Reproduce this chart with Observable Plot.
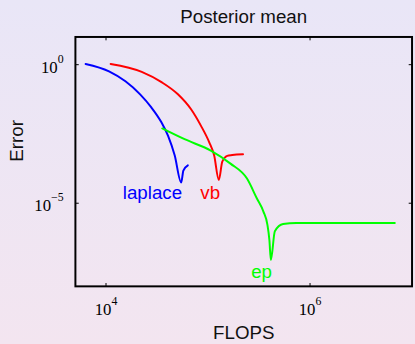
<!DOCTYPE html>
<html><head><meta charset="utf-8">
<script src="https://cdn.jsdelivr.net/npm/d3@7"></script>
<script src="https://cdn.jsdelivr.net/npm/@observablehq/plot@0.6"></script>
<style>
html,body{margin:0;padding:0;width:415px;height:344px;overflow:hidden;}
body{background:linear-gradient(to bottom,#e9e6f7,#f3e5f0);}
svg{display:block;}
</style></head><body><div id="chart"></div>
<script>
// Data (FLOPS vs. error, log–log)
const methods = ["laplace", "vb", "ep"];
const colors = ["#0000ff", "#ff0000", "#00ff00"];

const laplaceFlops = [6310, 10700, 15500, 21600, 27800, 34800, 40600, 47100, 54600, 57300, 63400];
const laplaceErr   = [1.06, 0.575, 0.251, 0.0851, 0.0288, 0.00851, 0.00269, 5.37e-4, 5.6e-5, 1.51e-4, 2.34e-4];

const vbFlops = [11100, 22400, 35000, 50700, 68200, 85100, 102800, 114800, 127600, 138000, 154200, 172600, 220300];
const vbErr   = [1.06, 0.55, 0.234, 0.0851, 0.0245, 0.00631, 0.00158, 5.37e-4, 6.9e-5, 3.16e-4, 5.13e-4, 5.5e-4, 5.89e-4];

const epFlops = [35600, 58900, 106400, 166000, 241000, 300600, 349100, 381900, 399900, 413000, 451900, 544500, 732800, 6776000];
const epErr   = [5.01e-3, 2.04e-3, 7.94e-4, 2.69e-4, 7.76e-5, 1.51e-5, 5.01e-6, 1.7e-6, 4.57e-7, 8.9e-8, 9.77e-7, 1.78e-6, 1.95e-6, 1.95e-6];

// label anchor positions (data coordinates)
const labelFlops = [28500, 105000, 335000];
const labelErr   = [2.4e-5, 2.4e-5, 3.2e-8];

const xTicks = [1e4, 1e6];
const yTicks = [1e0, 1e-5];

const titleText = "Posterior mean";
const xLabel = "FLOPS";
const yLabel = "Error";

const series = [
  {name: "laplace", flops: laplaceFlops, err: laplaceErr},
  {name: "vb", flops: vbFlops, err: vbErr},
  {name: "ep", flops: epFlops, err: epErr}
];
const data = series.flatMap(s => s.flops.map((f, i) => ({method: s.name, flops: f, err: s.err[i]})));
const labels = methods.map((m, i) => ({method: m, flops: labelFlops[i], err: labelErr[i]}));

const powLabel = d => "10^" + String(Math.round(Math.log10(d))).replace("-", "\u2212");
const tickShape = {draw(ctx, l) { ctx.moveTo(0, 0); ctx.lineTo(0, -l); }};
const sans = "'Liberation Sans', Arial, Helvetica, sans-serif";
const serif = "'Liberation Serif', 'Times New Roman', Times, serif";

const plot = Plot.plot({
  width: 421, height: 344,
  marginLeft: 76, marginRight: 3.5, marginTop: 37, marginBottom: 54,
  style: {background: "transparent", fontFamily: sans, overflow: "visible"},
  x: {type: "log", domain: [10 ** 3.7, 1e7], axis: null},
  y: {type: "log", domain: [1e-8, 10], axis: null},
  color: {domain: methods, range: colors},
  marks: [
    Plot.line(data, {x: "flops", y: "err", z: "method", stroke: "method", strokeWidth: 2, curve: "monotone-x"}),
    Plot.text(labels, {x: "flops", y: "err", text: "method", fill: "method", fontSize: 19, fontFamily: sans}),
    Plot.frame({stroke: "black", strokeWidth: 2}),
    Plot.vector(xTicks, {x: d => d, frameAnchor: "bottom", length: 3, rotate: 0, anchor: "start", shape: tickShape, stroke: "black", strokeWidth: 1}),
    Plot.vector(xTicks, {x: d => d, frameAnchor: "top", length: 3, rotate: 180, anchor: "start", shape: tickShape, stroke: "black", strokeWidth: 1}),
    Plot.vector(yTicks, {y: d => d, frameAnchor: "left", length: 3, rotate: 90, anchor: "start", shape: tickShape, stroke: "black", strokeWidth: 1}),
    Plot.vector(yTicks, {y: d => d, frameAnchor: "right", length: 3, rotate: -90, anchor: "start", shape: tickShape, stroke: "black", strokeWidth: 1}),
    Plot.text(xTicks, {x: d => d, frameAnchor: "bottom", text: powLabel, dy: 29, lineAnchor: "bottom", textAnchor: "middle", fontSize: 17, fontFamily: serif, fill: "black"}),
    Plot.text(yTicks, {y: d => d, frameAnchor: "left", text: powLabel, dx: -12, dy: 8, lineAnchor: "bottom", textAnchor: "end", fontSize: 17, fontFamily: serif, fill: "black"}),
    Plot.text([titleText], {frameAnchor: "top", text: d => d, dy: -14, lineAnchor: "bottom", fontSize: 19, fontFamily: sans, fill: "#111"}),
    Plot.text([xLabel], {frameAnchor: "bottom", text: d => d, dy: 53, lineAnchor: "bottom", fontSize: 19, fontFamily: sans, fill: "#111"}),
    Plot.text([yLabel], {frameAnchor: "left", text: d => d, dx: -53, rotate: -90, lineAnchor: "bottom", fontSize: 19, fontFamily: sans, fill: "#111"})
  ]
});

// render "10^k" as 10 with a superscript exponent
const NS = "http://www.w3.org/2000/svg";
plot.querySelectorAll("text").forEach(t => {
  const s = t.textContent;
  if (!s.includes("^")) return;
  const [base, exp] = s.split("^");
  t.textContent = base;
  const sup = document.createElementNS(NS, "tspan");
  sup.setAttribute("dy", "-10");
  sup.setAttribute("font-size", "12");
  sup.textContent = exp;
  t.appendChild(sup);
});

document.getElementById("chart").appendChild(plot);
</script>
</body></html>
